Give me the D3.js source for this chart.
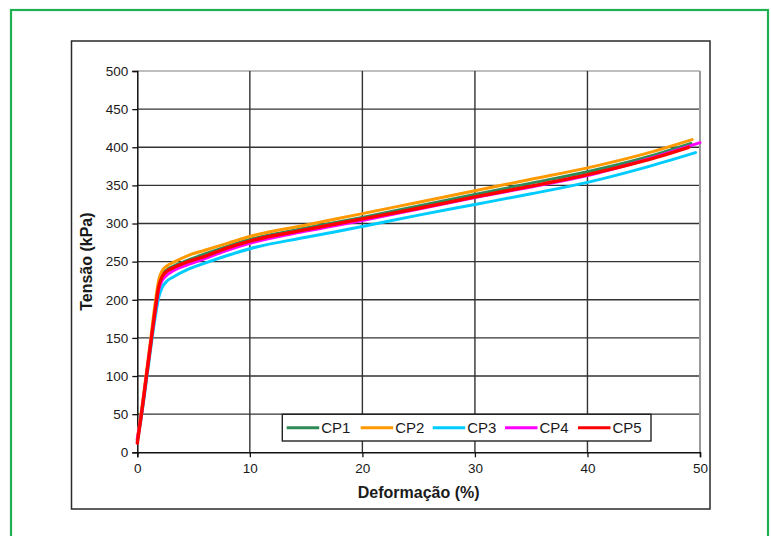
<!DOCTYPE html>
<html>
<head>
<meta charset="utf-8">
<script src="https://cdn.jsdelivr.net/npm/d3@7"></script>
<style>
  html, body { margin: 0; padding: 0; background: #fff; }
  svg { display: block; }
  text { font-family: "Liberation Sans", Arial, sans-serif; fill: #1a1a1a; }
</style>
</head>
<body>
<svg id="chart" width="771" height="536"></svg>
<script>
// Strain (%) sampling points shared by the specimens
const strain = [0, 0.4, 0.8, 1.2, 1.6, 1.9, 2.2, 2.6, 3.2, 4.5, 6, 8, 10, 15, 20, 25, 30, 35, 40, 45];

// Stress (kPa) for each specimen at the shared strain points
const cp1 = [16, 55, 100, 146, 191, 221, 233, 239, 244, 252, 260, 270, 279, 294, 308, 323, 338, 353, 368, 386];
const cp2 = [18, 58, 104, 150, 197, 226, 238, 244, 249, 258, 265, 274, 283, 298, 313, 328, 343, 358, 373, 391];
const cp3 = [14, 50, 93, 137, 178, 203, 216, 224, 230, 240, 248, 258, 267, 282, 296, 311, 325, 339, 354, 373];
const cp4 = [17, 54, 99, 144, 186, 213, 225, 232, 238, 246, 254, 265, 274, 290, 304, 319, 334, 348, 363, 383];
const cp5 = [12, 53, 98, 143, 188, 217, 230, 237, 242, 250, 257, 268, 277, 292, 306, 320, 335, 349, 364, 382];

// Final reading of each test (strain %, stress kPa)
const endStrain = [49.2, 49.3, 49.6, 50, 49];
const endStress = [405, 410, 393, 406, 400];

const seriesNames = ["CP1", "CP2", "CP3", "CP4", "CP5"];
const seriesColors = ["#2e8b57", "#ff9900", "#00ccff", "#ff00ff", "#ff0000"];
const seriesWidths = [3, 3, 3, 3, 3.4];

const xTicks = [0, 10, 20, 30, 40, 50];
const yTicks = [0, 50, 100, 150, 200, 250, 300, 350, 400, 450, 500];

const stressSets = [cp1, cp2, cp3, cp4, cp5];
const series = seriesNames.map((name, i) => ({
  name,
  color: seriesColors[i],
  width: seriesWidths[i],
  points: strain.map((s, j) => [s, stressSets[i][j]]).concat([[endStrain[i], endStress[i]]])
}));

const svg = d3.select("#chart");

// Page border and chart frame
svg.append("rect")
  .attr("x", 11).attr("y", 10).attr("width", 757).attr("height", 600)
  .attr("fill", "none").attr("stroke", "#1fb04f").attr("stroke-width", 2.2);

svg.append("rect")
  .attr("x", 71.5).attr("y", 41).attr("width", 638.5).attr("height", 468)
  .attr("fill", "#fff").attr("stroke", "#2a2a2a").attr("stroke-width", 1.5);

const plot = { left: 137.3, right: 700, top: 71, bottom: 452.3 };

const x = d3.scaleLinear().domain([0, 50]).range([plot.left, plot.right]);
const y = d3.scaleLinear().domain([0, 500]).range([plot.bottom, plot.top]);

const g = svg.append("g");

// Grid lines
g.selectAll(".hgrid").data(yTicks.filter(v => v > 0))
  .join("line")
  .attr("x1", plot.left).attr("x2", plot.right)
  .attr("y1", d => y(d)).attr("y2", d => y(d))
  .attr("stroke", d => d === 500 ? "#a8a8a8" : "#333")
  .attr("stroke-width", 1.4);

g.selectAll(".vgrid").data(xTicks.filter(v => v > 0))
  .join("line")
  .attr("x1", d => x(d)).attr("x2", d => x(d))
  .attr("y1", plot.top).attr("y2", plot.bottom)
  .attr("stroke", d => d === 50 ? "#9a9a9a" : "#333")
  .attr("stroke-width", d => d === 50 ? 2 : 1.4);

// Axes
const xAxis = d3.axisBottom(x).tickValues(xTicks).tickSize(5).tickPadding(6).tickFormat(d3.format("d"));
const yAxis = d3.axisLeft(y).tickValues(yTicks).tickSize(5).tickPadding(4).tickFormat(d3.format("d"));

const gx = svg.append("g").attr("transform", `translate(0,${plot.bottom})`).call(xAxis);
const gy = svg.append("g").attr("transform", `translate(${plot.left},0)`).call(yAxis);

[gx, gy].forEach(a => {
  a.select(".domain").attr("stroke", "#111").attr("stroke-width", 1.5);
  a.selectAll(".tick line").attr("stroke", "#111").attr("stroke-width", 1.3);
  a.selectAll(".tick text")
    .attr("font-family", "'Liberation Sans', Arial, sans-serif")
    .attr("font-size", 13.5)
    .attr("fill", "#1a1a2a");
});

// Curves
const line = d3.line().curve(d3.curveMonotoneX).x(d => x(d[0])).y(d => y(d[1]));
svg.append("g").selectAll("path").data(series)
  .join("path")
  .attr("d", d => line(d.points))
  .attr("fill", "none")
  .attr("stroke", d => d.color)
  .attr("stroke-width", d => d.width)
  .attr("stroke-linejoin", "round")
  .attr("stroke-linecap", "round");

// Axis titles
svg.append("text")
  .attr("x", (plot.left + plot.right) / 2).attr("y", 498)
  .attr("text-anchor", "middle")
  .attr("font-size", 16).attr("font-weight", "bold")
  .text("Deformação (%)");

svg.append("text")
  .attr("transform", `translate(92,${(plot.top + plot.bottom) / 2}) rotate(-90)`)
  .attr("text-anchor", "middle")
  .attr("font-size", 16).attr("font-weight", "bold")
  .text("Tensão (kPa)");

// Legend
const legend = svg.append("g");
legend.append("rect")
  .attr("x", 282.3).attr("y", 414.3).attr("width", 368.7).attr("height", 26.7)
  .attr("fill", "#fff").attr("stroke", "#222").attr("stroke-width", 1.4);

const legendX = [286.7, 360.7, 432.7, 505, 578];
const item = legend.selectAll(".item").data(series)
  .join("g")
  .attr("transform", (d, i) => `translate(${legendX[i]},427.7)`);
item.append("line")
  .attr("x1", 0).attr("x2", 32.5)
  .attr("stroke", d => d.color).attr("stroke-width", 3);
item.append("text")
  .attr("x", 34.5).attr("y", 5.3)
  .attr("font-size", 15)
  .text(d => d.name);
</script>
</body>
</html>
